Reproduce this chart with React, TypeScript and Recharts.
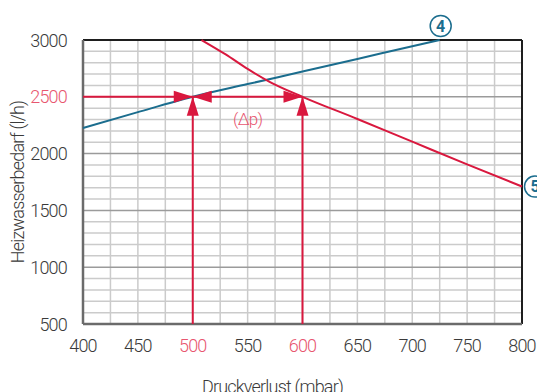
import {
  LineChart,
  Line,
  XAxis,
  YAxis,
  ReferenceLine,
  ReferenceDot,
  Label,
} from "recharts";

// axis ticks
const xTicks = [400, 450, 500, 550, 600, 650, 700, 750, 800];
const yTicks = [500, 1000, 1500, 2000, 2500, 3000];
const xGrid = [425, 450, 475, 500, 525, 550, 575, 600, 625, 650, 675, 700, 725, 750, 775];
const yGrid = [
  600, 700, 800, 900, 1100, 1200, 1300, 1400, 1600, 1700, 1800, 1900, 2100, 2200,
  2300, 2400, 2600, 2700, 2800, 2900,
];
const yMajor = [1000, 1500, 2000, 2500];

// curve 4 (rising) and curve 5 (falling)
const curve4 = [
  { x: 400, y: 2225 },
  { x: 450, y: 2365 },
  { x: 500, y: 2500 },
  { x: 550, y: 2612 },
  { x: 600, y: 2722 },
  { x: 650, y: 2833 },
  { x: 700, y: 2945 },
  { x: 725, y: 3000 },
];
const curve5 = [
  { x: 508, y: 3000 },
  { x: 530, y: 2873 },
  { x: 550, y: 2745 },
  { x: 570, y: 2632 },
  { x: 600, y: 2500 },
  { x: 650, y: 2305 },
  { x: 700, y: 2105 },
  { x: 750, y: 1905 },
  { x: 800, y: 1710 },
];

// operating point markers
const flow = 2500;
const lossLeft = 500;
const lossRight = 600;
const highlightX = [lossLeft, lossRight];
const highlightY = [flow];

const arrowHeads = [
  { x: lossLeft, y: flow, dir: "right" },
  { x: lossLeft, y: flow, dir: "left" },
  { x: lossLeft, y: flow, dir: "up" },
  { x: lossRight, y: flow, dir: "right" },
  { x: lossRight, y: flow, dir: "up" },
];

const BLUE = "#1b6d8e";
const RED = "#d9183e";
const PINK = "#e8566f";
const TEXT = "#3a3a3a";
const FONT = "Roboto, sans-serif";

const textStyle = { fontFamily: FONT, fontWeight: 300, letterSpacing: -0.8 };

const XTick = ({ x, y, payload }: any) => (
  <text
    x={x}
    y={y}
    dy={28}
    textAnchor="middle"
    fontSize={18}
    style={textStyle}
    fill={highlightX.includes(payload.value) ? PINK : TEXT}
  >
    {payload.value}
  </text>
);

const YTick = ({ x, y, payload }: any) => (
  <text
    x={x - 16}
    y={y}
    dy={6.5}
    textAnchor="end"
    fontSize={18}
    style={textStyle}
    fill={highlightY.includes(payload.value) ? PINK : TEXT}
  >
    {payload.value}
  </text>
);

const Arrow = ({ cx, cy, dir }: any) => {
  const l = 19;
  const w = 6;
  let pts = "";
  if (dir === "right") pts = `${cx},${cy} ${cx - l},${cy - w} ${cx - l},${cy + w}`;
  if (dir === "left") pts = `${cx},${cy} ${cx + l},${cy - w} ${cx + l},${cy + w}`;
  if (dir === "up") pts = `${cx},${cy} ${cx - w},${cy + l} ${cx + w},${cy + l}`;
  return <polygon points={pts} fill={RED} />;
};

const Badge = ({ cx, cy, text, dx, dy }: any) => (
  <g>
    <circle cx={cx + dx} cy={cy + dy} r={10.5} fill="white" stroke={BLUE} strokeWidth={1.5} />
    <text
      x={cx + dx}
      y={cy + dy}
      dy={5.5}
      textAnchor="middle"
      fontSize={16}
      fontWeight="bold"
      fontFamily={FONT}
      fill={BLUE}
    >
      {text}
    </text>
  </g>
);

export default function App() {
  return (
    <div style={{ position: "absolute", left: 0, top: 0, width: 537, height: 392 }}>
      <LineChart
        width={537}
        height={392}
        margin={{ top: 40, right: 15, bottom: 38, left: 0 }}
      >
        <XAxis
          type="number"
          dataKey="x"
          domain={[400, 800]}
          ticks={xTicks}
          height={30}
          tickSize={0}
          tickMargin={0}
          tick={<XTick />}
          axisLine={false}
          allowDuplicatedCategory={false}
        >
          <Label
            content={({ viewBox }: any) => (
              <text
                x={viewBox.x + viewBox.width / 2 - 30}
                y={viewBox.y + 69}
                textAnchor="middle"
                fontSize={18}
                style={textStyle}
                fill={TEXT}
              >
                Druckverlust (mbar)
              </text>
            )}
          />
        </XAxis>
        <YAxis
          type="number"
          dataKey="y"
          domain={[500, 3000]}
          ticks={yTicks}
          width={83}
          tickSize={0}
          tickMargin={0}
          tick={<YTick />}
          axisLine={false}
        >
          <Label
            content={({ viewBox }: any) => (
              <text
                x={18}
                y={viewBox.y + viewBox.height / 2}
                dy={6}
                transform={`rotate(-90, 18, ${viewBox.y + viewBox.height / 2})`}
                textAnchor="middle"
                fontSize={18}
                style={textStyle}
                fill={TEXT}
              >
                Heizwasserbedarf (l/h)
              </text>
            )}
          />
        </YAxis>
        {xGrid.map((v) => (
          <ReferenceLine key={`gx${v}`} x={v} stroke="#cbcbcb" strokeWidth={1.5} />
        ))}
        {yGrid.map((v) => (
          <ReferenceLine key={`gy${v}`} y={v} stroke="#cbcbcb" strokeWidth={1.5} />
        ))}
        {yMajor.map((v) => (
          <ReferenceLine key={`my${v}`} y={v} stroke="#9b9b9b" strokeWidth={1.5} />
        ))}
        <ReferenceLine y={3000} stroke="#1e1e1e" strokeWidth={2} />
        <ReferenceLine x={800} stroke="#1e1e1e" strokeWidth={2} />
        <ReferenceLine x={400} stroke="#6b6b6b" strokeWidth={2.5} />
        <ReferenceLine y={500} stroke="#6b6b6b" strokeWidth={2.5} />
        <Line
          data={curve4}
          dataKey="y"
          type="monotone"
          stroke={BLUE}
          strokeWidth={2}
          dot={false}
          isAnimationActive={false}
        />
        <Line
          data={curve5}
          dataKey="y"
          type="monotone"
          stroke={RED}
          strokeWidth={2}
          dot={false}
          isAnimationActive={false}
        />
        <ReferenceLine
          segment={[
            { x: 400, y: flow },
            { x: lossRight, y: flow },
          ]}
          stroke={RED}
          strokeWidth={2}
        />
        <ReferenceLine
          segment={[
            { x: lossLeft, y: 500 },
            { x: lossLeft, y: flow },
          ]}
          stroke={RED}
          strokeWidth={2}
        />
        <ReferenceLine
          segment={[
            { x: lossRight, y: 500 },
            { x: lossRight, y: flow },
          ]}
          stroke={RED}
          strokeWidth={2}
        />
        {arrowHeads.map((a, i) => (
          <ReferenceDot key={i} x={a.x} y={a.y} r={0} shape={(p: any) => <Arrow {...p} dir={a.dir} />} />
        ))}
        <ReferenceDot
          x={(lossLeft + lossRight) / 2}
          y={flow}
          r={0}
          shape={(p: any) => (
            <text
              x={p.cx}
              y={p.cy}
              dy={28}
              textAnchor="middle"
              fontSize={17}
              style={textStyle}
              fill={PINK}
            >
              (Δp)
            </text>
          )}
        />
        <ReferenceDot
          x={725}
          y={3000}
          r={0}
          shape={(p: any) => <Badge {...p} text="4" dx={1} dy={-14} />}
        />
        <ReferenceDot
          x={800}
          y={1710}
          r={0}
          shape={(p: any) => <Badge {...p} text="5" dx={13} dy={0} />}
        />
      </LineChart>
    </div>
  );
}
